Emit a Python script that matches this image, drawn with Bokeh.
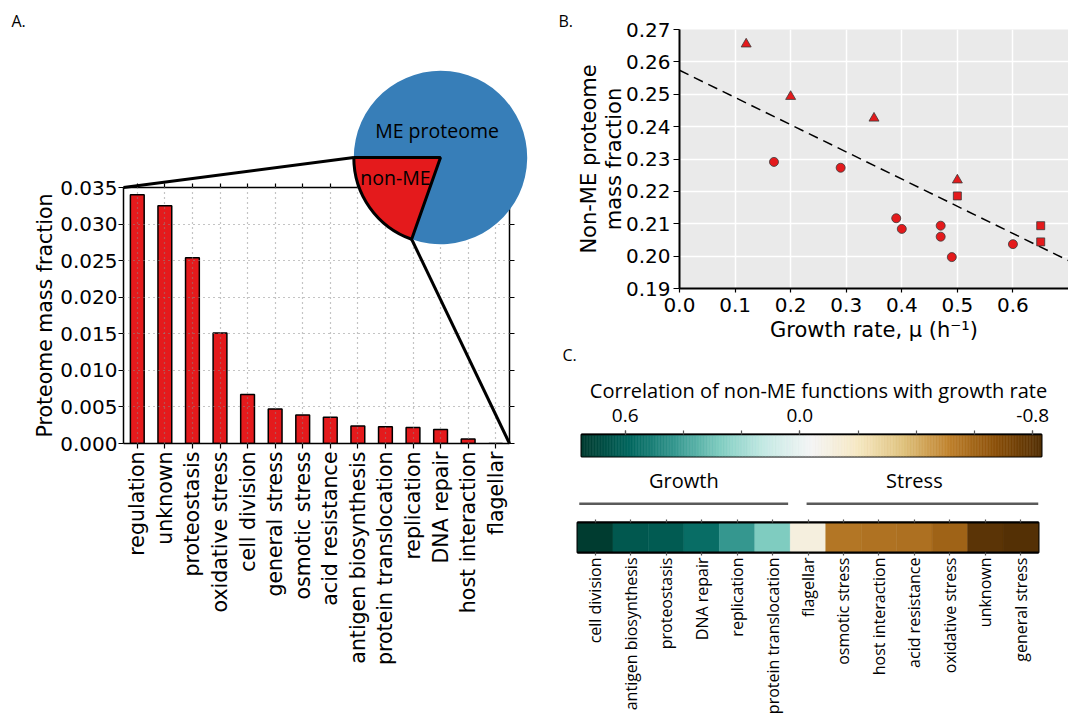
import numpy as np
from bokeh.plotting import figure
from bokeh.layouts import row, column
from bokeh.models import (ColumnDataSource, Range1d, FactorRange, FixedTicker,
                          PrintfTickFormatter, LinearAxis, CategoricalAxis)
from bokeh.transform import linear_cmap
from bokeh.core.properties import value
from bokeh.embed import file_html
from bokeh.resources import INLINE

# ---------------- A: composition of the non-ME proteome ----------------
functions = ["regulation", "unknown", "proteostasis", "oxidative stress", "cell division",
             "general stress", "osmotic stress", "acid resistance", "antigen biosynthesis",
             "protein translocation", "replication", "DNA repair", "host interaction", "flagellar"]
mass_fraction = [0.0340, 0.0325, 0.0254, 0.0151, 0.0067, 0.0047, 0.0039, 0.0036, 0.0024,
                 0.0023, 0.0022, 0.0019, 0.0006, 0.0000]
mass_ticks = [0.000, 0.005, 0.010, 0.015, 0.020, 0.025, 0.030, 0.035]
pie_labels = ["non-ME", "ME proteome"]
pie_fraction = [0.196, 0.804]

# ---------------- B: non-ME fraction vs growth rate ----------------
tri_mu = [0.12, 0.20, 0.35, 0.50]
tri_frac = [0.2655, 0.2493, 0.2426, 0.2235]
circ_mu = [0.17, 0.29, 0.39, 0.40, 0.47, 0.47, 0.49, 0.60]
circ_frac = [0.2291, 0.2273, 0.2117, 0.2084, 0.2094, 0.2060, 0.1997, 0.2037]
sq_mu = [0.50, 0.65, 0.65]
sq_frac = [0.2186, 0.2094, 0.2044]
fit_intercept = 0.2574
fit_slope = -0.084
mu_ticks = [0.0, 0.1, 0.2, 0.3, 0.4, 0.5, 0.6]
frac_ticks = [0.19, 0.20, 0.21, 0.22, 0.23, 0.24, 0.25, 0.26, 0.27]

# ---------------- C: correlation of functions with growth rate ----------------
corr_title = "Correlation of non-ME functions with growth rate"
corr_functions = ["cell division", "antigen biosynthesis", "proteostasis", "DNA repair",
                  "replication", "protein translocation", "flagellar", "osmotic stress",
                  "host interaction", "acid resistance", "oxidative stress", "unknown",
                  "general stress"]
corr_values = [0.75, 0.64, 0.63, 0.57, 0.43, 0.28, -0.11, -0.55, -0.56, -0.57, -0.61, -0.81, -0.83]
corr_groups = ["Growth", "Stress"]
corr_group_sizes = [6, 7]
corr_ticks = [-0.8, -0.6, -0.4, -0.2, 0.0, 0.2, 0.4, 0.6]
corr_labeled_ticks = [-0.8, 0.0, 0.6]

# ---------------- styling ----------------
RED, BLUE = "#e41a1c", "#377eb8"
MONO = "DejaVu Sans"
HUM = "Open Sans"
BRBG = ["#543005", "#8c510a", "#bf812d", "#dfc27d", "#f6e8c3", "#f5f5f5",
        "#c7eae5", "#80cdc1", "#35978f", "#01665e", "#003c30"]
FIG = dict(output_backend="svg", toolbar_location=None, frame_align=False)


def smooth_palette(anchors, n=256):
    rgb = np.array([[int(h[i:i + 2], 16) for i in (1, 3, 5)] for h in anchors], float)
    t = np.linspace(0, 1, len(anchors))
    tt = np.linspace(0, 1, n)
    out = np.stack([np.interp(tt, t, rgb[:, k]) for k in range(3)], 1)
    return ["#%02x%02x%02x" % tuple(int(round(v)) for v in c) for c in out]


PAL = smooth_palette(BRBG)


def style_axis(ax, font, size, tick_out=5, line_width=1.5):
    ax.axis_line_color = "black"
    ax.axis_line_width = line_width
    ax.major_tick_line_color = "black"
    ax.major_tick_line_width = 1.2
    ax.major_tick_out = tick_out
    ax.major_tick_in = 0
    ax.minor_tick_line_color = None
    ax.major_label_text_font = font
    ax.major_label_text_font_size = size
    ax.major_label_text_color = "black"
    ax.axis_label_text_font = font
    ax.axis_label_text_font_style = "normal"
    ax.axis_label_text_color = "black"


def ticks_only(ax):
    """An axis that shows tick marks but no tick labels."""
    ax.major_label_text_color = None
    ax.major_label_text_font_size = "1px"
    ax.major_label_standoff = 0


def px_to_data(px, py, frame, xspan, yspan):
    """Panel pixel position -> data coordinates for a frame (left, top, right, bottom)."""
    left, top, right, bottom = frame
    x = xspan[0] + (px - left) / (right - left) * (xspan[1] - xspan[0])
    y = yspan[0] + (bottom - py) / (bottom - top) * (yspan[1] - yspan[0])
    return x, y


# ======================= panel A =======================
A_W, A_H = 545, 717
A_BL, A_BR, A_BT, A_BB = 123, 36, 187, 274
pa = figure(width=A_W, height=A_H, x_range=FactorRange(factors=functions, range_padding=0),
            y_range=Range1d(0, 0.035), min_border_left=A_BL, min_border_right=A_BR,
            min_border_top=A_BT, min_border_bottom=A_BB, **FIG)
pa.outline_line_color = None
pa.background_fill_color = "white"

src_a = ColumnDataSource(dict(f=functions, v=mass_fraction))
pa.vbar(x="f", top="v", width=0.5, source=src_a, fill_color=RED,
        line_color="black", line_width=1.5)

for g in pa.grid:
    g.grid_line_color = "#8a8a8a"
    g.grid_line_dash = "1 4"
    g.grid_line_width = 1.2
    g.level = "annotation"

pa.yaxis.ticker = FixedTicker(ticks=mass_ticks)
pa.yaxis.formatter = PrintfTickFormatter(format="%.3f")
style_axis(pa.yaxis[0], MONO, "20px")
pa.yaxis.axis_label = "Proteome mass fraction"
pa.yaxis.axis_label_text_font_size = "20.5px"
pa.yaxis.axis_label_standoff = 0
pa.yaxis.major_label_standoff = 1

style_axis(pa.xaxis[0], MONO, "20.5px")
pa.xaxis.major_label_orientation = np.pi / 2
pa.xaxis.major_label_standoff = 3

ra = LinearAxis(ticker=FixedTicker(ticks=mass_ticks))
style_axis(ra, MONO, "1px")
ticks_only(ra)
pa.add_layout(ra, "right")
ta = CategoricalAxis()
style_axis(ta, MONO, "1px", tick_out=4)
ticks_only(ta)
pa.add_layout(ta, "above")

# pie inset drawn in the bar axes' own (synthetic) coordinates, outside the frame
PIE_CX, PIE_CY, PIE_R = 440.0, 157.0, 86.7
A_FRAME = (A_BL, A_BT, A_W - A_BR, A_H - A_BB)
A_XSPAN = (0.0, float(len(functions)))
A_YSPAN = (0.0, 0.035)


def pie_point(ux, uy):
    """Point in pie units (radius = 1, y up) -> bar-axes data coordinates."""
    return px_to_data(PIE_CX + PIE_R * ux, PIE_CY - PIE_R * uy, A_FRAME, A_XSPAN, A_YSPAN)


edges = np.pi + 2 * np.pi * np.concatenate([[0.0], np.cumsum(pie_fraction)])
pcx, pcy = pie_point(0, 0)
rim0 = pie_point(np.cos(edges[0]), np.sin(edges[0]))
rim1 = pie_point(np.cos(edges[1]), np.sin(edges[1]))
ov = dict(level="overlay")

# zoom lines from the non-ME slice to the corners of the bar axes
pa.segment(x0=[rim0[0], rim1[0]], y0=[rim0[1], rim1[1]],
           x1=[A_XSPAN[0], A_XSPAN[1]], y1=[A_YSPAN[1], A_YSPAN[0]],
           line_color="black", line_width=3, **ov)
pa.wedge(x=pcx, y=pcy, radius=PIE_R, radius_units="screen", start_angle=edges[1],
         end_angle=edges[2], fill_color=BLUE, line_color=None, **ov)
pa.wedge(x=pcx, y=pcy, radius=PIE_R, radius_units="screen", start_angle=edges[0],
         end_angle=edges[1], fill_color=RED, line_color="black", line_width=3, **ov)
lab_pos = [pie_point(-0.52, -0.227), pie_point(-0.04, 0.31)]
pa.text(x=[p[0] for p in lab_pos], y=[p[1] for p in lab_pos], text=pie_labels,
        text_font=value(HUM), text_font_size="19.5px", text_align="center",
        text_baseline="middle", text_color="black", **ov)

ax_, ay_ = px_to_data(11, 20, A_FRAME, A_XSPAN, A_YSPAN)
pa.text(x=[ax_], y=[ay_], text=["A."], text_font=value(HUM), text_font_size="16px",
        text_align="left", text_baseline="middle", **ov)

# ======================= panel B =======================
B_W, B_H = 523, 345
B_BL, B_BR, B_BT, B_BB = 134, 0, 29, 57
pb = figure(width=B_W, height=B_H, x_range=Range1d(0, 0.7), y_range=Range1d(0.19, 0.27),
            min_border_left=B_BL, min_border_right=B_BR, min_border_top=B_BT,
            min_border_bottom=B_BB, background_fill_color="#eaeaea", **FIG)
pb.outline_line_color = None
pb.grid.grid_line_color = "white"
pb.grid.grid_line_width = 1.5

pb.xaxis.ticker = FixedTicker(ticks=mu_ticks)
pb.xaxis.formatter = PrintfTickFormatter(format="%.1f")
pb.yaxis.ticker = FixedTicker(ticks=frac_ticks)
pb.yaxis.formatter = PrintfTickFormatter(format="%.2f")
style_axis(pb.xaxis[0], MONO, "20px", tick_out=4, line_width=2)
style_axis(pb.yaxis[0], MONO, "20px", tick_out=6, line_width=2)
pb.xaxis.axis_label = "Growth rate, \u03bc (h\u207b\u00b9)"
pb.yaxis.axis_label = "Non-ME proteome\nmass fraction"
pb.xaxis.axis_label_text_font_size = "21px"
pb.yaxis.axis_label_text_font_size = "21px"
pb.yaxis.axis_label_text_line_height = 1.05
pb.xaxis.major_label_standoff = 5
pb.xaxis.axis_label_standoff = 3
pb.yaxis.major_label_standoff = 3
pb.yaxis.axis_label_standoff = -3

fit_x = np.array([pb.x_range.start, pb.x_range.end])
pb.line(fit_x, fit_intercept + fit_slope * fit_x, line_color="black", line_width=1.5,
        line_dash="10 6")
mk = dict(fill_color=RED, line_color="#3a3a3a", line_width=0.8)
pb.scatter(tri_mu, tri_frac, marker="triangle", size=10, **mk)
pb.scatter(circ_mu, circ_frac, marker="circle", size=9, **mk)
pb.scatter(sq_mu, sq_frac, marker="square", size=8, **mk)

bx, by = px_to_data(13, 20, (B_BL, B_BT, B_W - B_BR, B_H - B_BB), (0, 0.7), (0.19, 0.27))
pb.text(x=[bx], y=[by], text=["B."], text_font=value(HUM), text_font_size="16px",
        text_align="left", text_baseline="middle", level="overlay")

# ======================= panel C: colour scale =======================
cmin, cmax = min(corr_values), max(corr_values)
C1_W, C1_H = 523, 117
C1_BL, C1_BR, C1_BT, C1_BB = 36, 27, 89, 6
C1_FRAME = (C1_BL, C1_BT, C1_W - C1_BR, C1_H - C1_BB)
pc1 = figure(width=C1_W, height=C1_H, x_range=Range1d(cmax, cmin), y_range=Range1d(0, 1),
             x_axis_location="above", y_axis_location=None, min_border_left=C1_BL,
             min_border_right=C1_BR, min_border_top=C1_BT, min_border_bottom=C1_BB, **FIG)
pc1.grid.visible = False
pc1.outline_line_color = "black"
pc1.outline_line_width = 2

grad = np.linspace(cmin, cmax, 301)
src_g = ColumnDataSource(dict(l=grad[:-1], r=grad[1:], c=0.5 * (grad[:-1] + grad[1:])))
gmap = linear_cmap("c", PAL, cmin, cmax)
pc1.quad(left="l", right="r", bottom=0, top=1, source=src_g, fill_color=gmap,
         line_color=gmap, line_width=0.6)

# labelled ticks as major ticks, the rest as equally long minor ticks
pc1.xaxis.ticker = FixedTicker(ticks=corr_labeled_ticks, minor_ticks=corr_ticks)
pc1.xaxis.formatter = PrintfTickFormatter(format="%.1f")
style_axis(pc1.xaxis[0], HUM, "19px", tick_out=4)
pc1.xaxis.major_tick_line_color = "#555555"
pc1.xaxis.minor_tick_line_color = "#555555"
pc1.xaxis.minor_tick_line_width = 1.2
pc1.xaxis.minor_tick_out = 4
pc1.xaxis.minor_tick_in = 0
pc1.xaxis.major_label_standoff = 9

# colour-scale title above the tick labels
tx, ty = px_to_data(273, 44.5, C1_FRAME, (cmax, cmin), (0, 1))
pc1.text(x=[tx], y=[ty], text=[corr_title], text_font=value(HUM), text_font_size="20px",
         text_align="center", text_baseline="middle", level="overlay")

cx, cy = px_to_data(17, 9, C1_FRAME, (cmax, cmin), (0, 1))
pc1.text(x=[cx], y=[cy], text=["C."], text_font=value(HUM), text_font_size="16px",
         text_align="left", text_baseline="middle", level="overlay")

# ======================= panel C: group brackets =======================
CM_W, CM_H = 523, 53
C2_BL, C2_BR = 32, 30
n_corr = len(corr_functions)
pcm = figure(width=CM_W, height=CM_H, x_range=Range1d(0, n_corr), y_range=Range1d(0, 1),
             x_axis_location=None, y_axis_location=None, min_border_left=C2_BL,
             min_border_right=C2_BR, min_border_top=0, min_border_bottom=0, **FIG)
pcm.grid.visible = False
pcm.outline_line_color = None
g_end = np.cumsum(corr_group_sizes).astype(float)
g_start = g_end - np.array(corr_group_sizes)
inset_l = np.array([0.05, 0.46])
inset_r = np.array([0.06, 0.0])
pcm.segment(x0=g_start + inset_l, x1=g_end - inset_r, y0=0.22, y1=0.22,
            line_color="#5a5a5a", line_width=2.5)
pcm.text(x=0.5 * (g_start + g_end), y=[0.66] * len(corr_groups), text=corr_groups,
         text_font=value(HUM), text_font_size="20px", text_align="center",
         text_baseline="middle", text_color="black")

# ======================= panel C: per-function strip =======================
C2_W, C2_H = 523, 202
pc2 = figure(width=C2_W, height=C2_H, x_range=FactorRange(factors=corr_functions, range_padding=0),
             y_range=Range1d(0, 1), y_axis_location=None, min_border_left=C2_BL,
             min_border_right=C2_BR, min_border_top=7, min_border_bottom=159, **FIG)
pc2.grid.visible = False
pc2.outline_line_color = "black"
pc2.outline_line_width = 2
src_c = ColumnDataSource(dict(f=corr_functions, c=corr_values))
cmap = linear_cmap("c", PAL, cmin, cmax)
pc2.rect(x="f", y=0.5, width=1, height=1, source=src_c, fill_color=cmap,
         line_color=cmap, line_width=0.5)
style_axis(pc2.xaxis[0], HUM, "16px", tick_out=3, line_width=2)
pc2.xaxis.major_tick_line_color = "#555555"
pc2.xaxis.major_label_orientation = np.pi / 2
pc2.xaxis.major_label_standoff = 2
ta2 = CategoricalAxis()
style_axis(ta2, HUM, "1px", tick_out=3, line_width=2)
ticks_only(ta2)
ta2.major_tick_line_color = "#555555"
pc2.add_layout(ta2, "above")

layout = row(pa, column(pb, pc1, pcm, pc2))
open("out.html", "w").write(file_html(layout, INLINE))
